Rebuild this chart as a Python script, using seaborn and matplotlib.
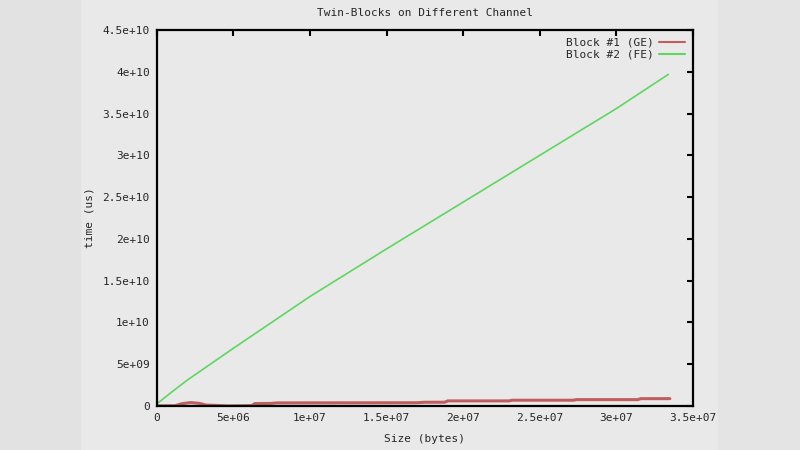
import numpy as np
import pandas as pd
import seaborn as sns
import matplotlib
matplotlib.use("Agg")
import matplotlib.pyplot as plt
from matplotlib.ticker import FuncFormatter, MultipleLocator
from matplotlib.patches import Rectangle

# datos
ge_size = [0, 1.2e6, 1.6e6, 2.2e6, 2.8e6, 3.2e6, 4.0e6, 4.6e6, 6.2e6, 6.4e6,
           7.5e6, 7.8e6, 1.7e7, 1.75e7, 1.88e7, 1.9e7, 2.3e7, 2.32e7, 2.72e7,
           2.74e7, 3.14e7, 3.16e7, 3.35e7]
ge_time = [0, 0.2e8, 2.5e8, 4.0e8, 3.0e8, 1.0e8, 0.5e8, 0, 0.3e8, 2.8e8,
           3.0e8, 3.6e8, 3.8e8, 4.4e8, 4.4e8, 6.0e8, 6.0e8, 6.8e8, 6.8e8,
           7.5e8, 7.5e8, 8.7e8, 8.7e8]

fe_size = [0, 1e6, 2e6, 3.5e6, 5e6, 7.5e6, 1e7, 1.5e7, 2e7, 2.5e7, 3e7, 3.34e7]
fe_time = [0.024e10, 0.17e10, 0.31e10, 0.5e10, 0.69e10, 1.0e10, 1.31e10,
           1.88e10, 2.44e10, 3.0e10, 3.56e10, 3.97e10]

labels = ["Block #1 (GE)", "Block #2 (FE)"]
colores = {"Block #1 (GE)": "#bf5e5e", "Block #2 (FE)": "#5fd65f"}

df = pd.concat([
    pd.DataFrame({"size": ge_size, "time": ge_time, "block": labels[0]}),
    pd.DataFrame({"size": fe_size, "time": fe_time, "block": labels[1]}),
])

sns.set_style("white")
plt.rcParams["font.family"] = ["DejaVu Sans Mono"]

fondo = "#e9e9e9"
fig = plt.figure(figsize=(8, 4.5), dpi=100, facecolor=fondo)
# franjas laterales de la diapositiva
fig.patches.append(Rectangle((0, 0), 0.1, 1, transform=fig.transFigure,
                             color="#e2e2e2", zorder=-5))
fig.patches.append(Rectangle((0.898, 0), 0.102, 1, transform=fig.transFigure,
                             color="#e4e4e4", zorder=-5))

ax = fig.add_axes([0.196, 0.098, 0.67, 0.835])
ax.set_facecolor(fondo)

sns.lineplot(data=df, x="size", y="time", hue="block", palette=colores,
             estimator=None, sort=False, ax=ax, legend=False)
ax.lines[0].set_linewidth(2.2)
ax.lines[1].set_linewidth(1.2)

ax.set_xlim(0, 3.5e7)
ax.set_ylim(0, 4.5e10)
ax.xaxis.set_major_locator(MultipleLocator(5e6))
ax.yaxis.set_major_locator(MultipleLocator(5e9))
fmt = FuncFormatter(lambda v, p: "%g" % v)
ax.xaxis.set_major_formatter(fmt)
ax.yaxis.set_major_formatter(fmt)
ax.tick_params(direction="in", length=4, width=1.5, color="black",
               top=True, right=True, labelsize=8, pad=5)

for s in ax.spines.values():
    s.set_color("black")
    s.set_linewidth(1.6)

ax.set_title("Twin-Blocks on Different Channel", fontsize=8, pad=10)
ax.set_xlabel("Size (bytes)", fontsize=8, labelpad=8)
ax.set_ylabel("time (us)", fontsize=8, labelpad=6)

handles = [plt.Line2D([], [], color=colores[l], lw=1.5) for l in labels]
ax.legend(handles, labels, loc="upper right", frameon=False, fontsize=8,
          markerfirst=False, handlelength=2.3, handletextpad=0.5,
          labelspacing=0.15, borderaxespad=0.3)

plt.savefig("out.png", dpi=100, facecolor=fig.get_facecolor())
